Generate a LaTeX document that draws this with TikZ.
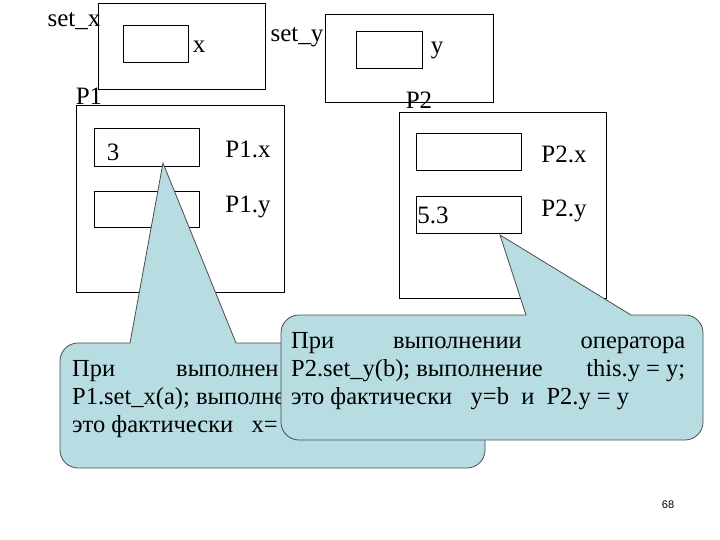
\documentclass[tikz,border=0pt]{standalone}
\usepackage{fontspec}
\setmainfont{Liberation Serif}
\newfontfamily\pgnum{Liberation Sans}
\begin{document}
\begin{tikzpicture}[x=1pt,y=-1pt,
  box/.style={draw,line width=0.8pt},
  lbl/.style={font=\fontsize{25}{27}\selectfont,inner sep=0pt},
  callout/.style={draw=black!70,line width=0.8pt,fill=calloutc},
  cline/.style={font=\fontsize{24.5}{26}\selectfont,inner sep=0pt,anchor=west}]
\definecolor{calloutc}{RGB}{183,221,227}
\useasboundingbox (0,0) rectangle (720,540);
% set_x
\draw[box] (98,3) rectangle (265,89);
\draw[box] (123,25) rectangle (188,62);
\node[lbl] (lsx) at (74,21) {set\_x};
\node[lbl] (lx) at (199,47) {x};
% set_y
\draw[box] (325,14) rectangle (493,102);
\draw[box] (356,31) rectangle (422,68);
\node[lbl] (lsy) at (297,37) {set\_y};
\node[lbl] (ly) at (437,50) {y};
% P1
\node[lbl] (lp1) at (89,96) {P1};
\draw[box] (76,105) rectangle (284,292);
\draw[box] (94,128) rectangle (199,166);
\draw[box] (94,191) rectangle (199,227);
\node[lbl] (v3) at (113,152) {3};
\node[lbl] (p1x) at (248,149) {P1.x};
\node[lbl] (p1y) at (248,207) {P1.y};
% P2
\node[lbl] (lp2) at (419,100) {P2};
\draw[box] (399,112) rectangle (606,298);
\draw[box] (416,133) rectangle (521,170);
\draw[box] (416,196) rectangle (521,233);
\node[lbl] (v53) at (433,215) {5.3};
\node[lbl] (p2x) at (564,154) {P2.x};
\node[lbl] (p2y) at (564,211) {P2.y};
% callout 1
\draw[callout] (163,163) -- (130,343) [rounded corners=18pt] -- (60,343) -- (60,468) -- (485,468) -- (485,343) [sharp corners] -- (236,343) -- cycle;
\node[cline] (t1a) at (72,371) {При};
\node[cline] (t1b) at (176,371) {выполнен};
\node[cline] (t1c) at (72,399) {P1.set\_x(a); выполне};
\node[cline] (t1d) at (72,427) {это фактически \ \ x=};
% callout 2
\draw[callout] (500,235) -- (526,315) [rounded corners=18pt] -- (281,315) -- (281,440) -- (703,440) -- (703,315) [sharp corners] -- (631,315) -- cycle;
\node[cline] (t2a) at (291,343) {\hbox to 394pt{При\hfill выполнении\hfill оператора}};
\node[cline] (t2b) at (291,371) {\hbox to 394pt{P2.set\_y(b); выполнение\hfill this.y = y;}};
\node[cline] (t2c) at (291,399) {это фактически \ \ y=b \ и \ P2.y = y};
\node[font=\pgnum\fontsize{11}{13}\selectfont,inner sep=0pt] (pg) at (668,505) {68};
\end{tikzpicture}
\end{document}
